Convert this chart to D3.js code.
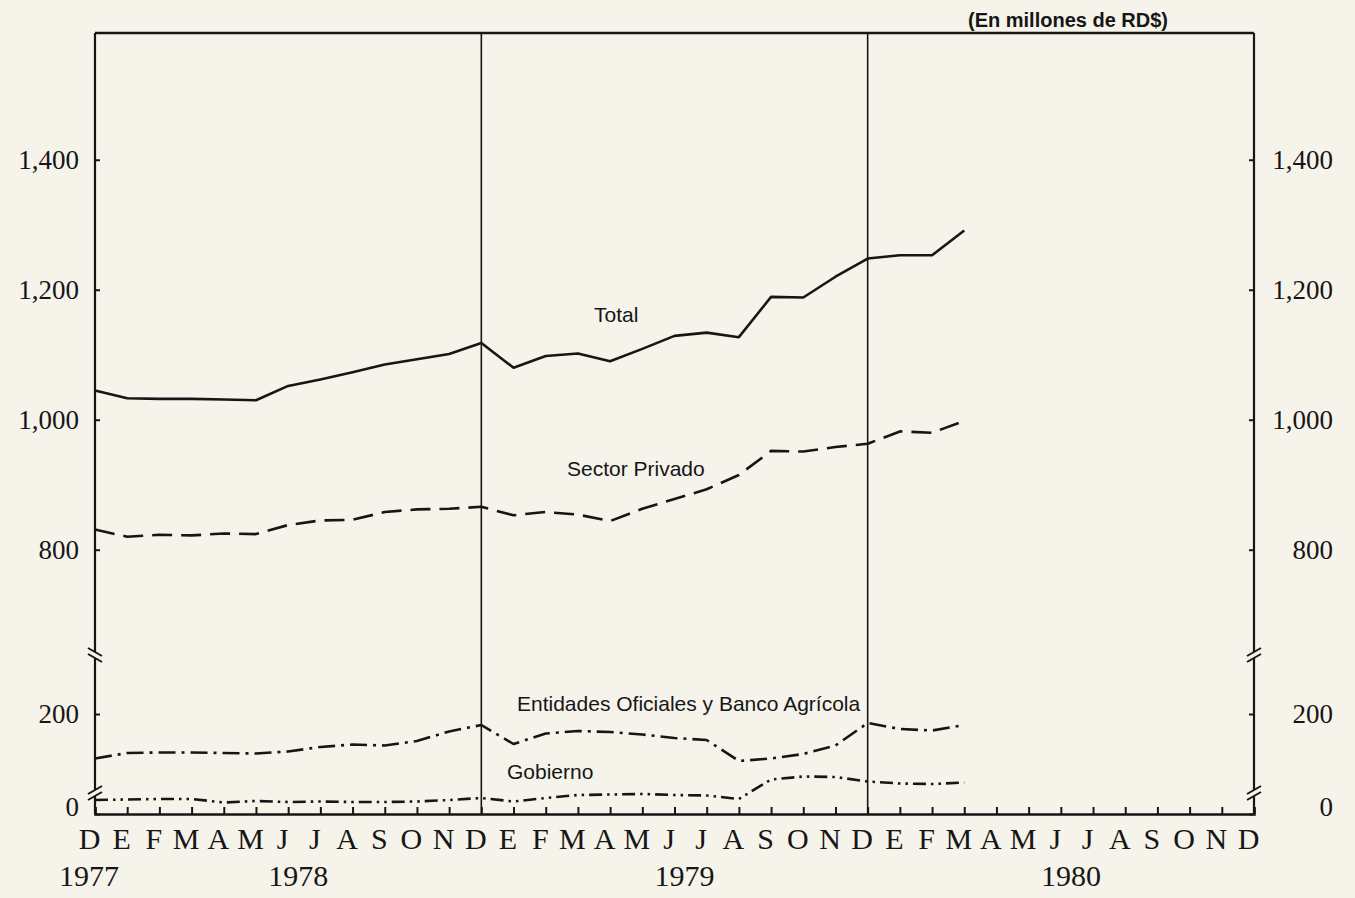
<!DOCTYPE html>
<html>
<head>
<meta charset="utf-8">
<script src="https://cdn.jsdelivr.net/npm/d3@7"></script>
<style>
  html, body { margin: 0; padding: 0; background: #f5f3ea; }
  svg { display: block; }
  .num { font-family: "Liberation Serif", "DejaVu Serif", serif; fill: #161616; }
  .lbl { font-family: "Liberation Sans", "DejaVu Sans", sans-serif; fill: #161616; }
</style>
</head>
<body>
<div id="chart"></div>
<script>
// months from Dec 1977 to Dec 1980
const months = ["D",
  "E","F","M","A","M","J","J","A","S","O","N","D",
  "E","F","M","A","M","J","J","A","S","O","N","D",
  "E","F","M","A","M","J","J","A","S","O","N","D"];
const years = ["1977", "1978", "1979", "1980"];

const upperTicks = [800, 1000, 1200, 1400];
const lowerTicks = [0, 200];

// values in millones de RD$, Dec 1977 .. Mar 1980
const total     = [1045,1033,1032,1032,1031,1030,1052,1062,1073,1085,1093,1101,1118,1080,1098,1102,1090,1109,1129,1134,1127,1189,1188,1220,1248,1253,1253,1291];
const privado   = [831,820,823,822,825,824,838,845,846,858,862,863,866,853,858,854,844,863,878,893,915,952,951,958,963,982,980,998];
const entidades = [111,122,123,123,122,121,125,134,139,137,146,165,178,140,161,166,164,159,152,148,106,111,120,137,182,170,167,178];
const gobierno  = [28,29,30,30,23,26,24,25,24,24,25,28,32,25,32,38,39,40,38,37,30,69,75,74,65,61,60,63];

const W = 1355, H = 898;
const mLeft = 95, mRight = 1254, mTop = 33, mBottom = 814, breakY = 655;
const ink = "#161616", bg = "#f5f3ea";

const svg = d3.select("#chart").append("svg")
  .attr("width", W).attr("height", H);

const x = d3.scaleLinear().domain([0, months.length - 1]).range([mLeft, mRight]);
const yUpper = d3.scaleLinear().domain([638, 1595]).range([breakY, mTop]);
const yLower = d3.scaleLinear().domain([0, 318]).range([mBottom, breakY]);

// frame
svg.append("line").attr("x1", mLeft).attr("x2", mRight).attr("y1", mTop).attr("y2", mTop)
  .attr("stroke", ink).attr("stroke-width", 2.6);
[mLeft, mRight].forEach(xx => {
  svg.append("line").attr("x1", xx).attr("x2", xx).attr("y1", mTop).attr("y2", mBottom)
    .attr("stroke", ink).attr("stroke-width", 2.2);
});
// December dividers
[12, 24].forEach(i => {
  svg.append("line").attr("x1", x(i)).attr("x2", x(i)).attr("y1", mTop).attr("y2", mBottom)
    .attr("stroke", ink).attr("stroke-width", 1.6);
});

// x axis
const xAxis = d3.axisBottom(x)
  .tickValues(d3.range(months.length))
  .tickSize(-7)
  .tickPadding(14)
  .tickFormat(i => months[i]);
const gx = svg.append("g").attr("transform", `translate(0,${mBottom})`).call(xAxis);
gx.select(".domain").attr("stroke", ink).attr("stroke-width", 2.6);
gx.selectAll(".tick line").attr("stroke", ink).attr("stroke-width", 2);
gx.selectAll(".tick text").attr("class", "num").attr("font-size", 30)
  .attr("dx", -6).attr("fill", ink);

// years
svg.selectAll(".year").data(years).enter().append("text")
  .attr("class", "num year")
  .attr("x", (d, k) => x(k === 0 ? 0 : (k - 1) * 12 + 6.5) - 6)
  .attr("y", mBottom + 72)
  .attr("text-anchor", "middle")
  .attr("font-size", 30)
  .text(d => d);

// y axes (ticks inward)
function styleY(g, side) {
  g.select(".domain").remove();
  g.selectAll(".tick line").attr("stroke", ink).attr("stroke-width", 2);
  g.selectAll(".tick text").attr("class", "num").attr("font-size", 27).attr("fill", ink)
    .attr("text-anchor", "end")
    .attr("x", side === "left" ? -16 : 79);
  g.selectAll(".tick").filter(d => d === 0).select("text")
    .attr("transform", "translate(0,-7)");
}
const fmt = d3.format(",");
svg.append("g").attr("transform", `translate(${mLeft},0)`)
  .call(d3.axisLeft(yUpper).tickValues(upperTicks).tickSize(-5).tickFormat(fmt))
  .call(g => styleY(g, "left"));
svg.append("g").attr("transform", `translate(${mLeft},0)`)
  .call(d3.axisLeft(yLower).tickValues(lowerTicks).tickSize(-5).tickFormat(fmt))
  .call(g => styleY(g, "left"));
svg.append("g").attr("transform", `translate(${mRight},0)`)
  .call(d3.axisRight(yUpper).tickValues(upperTicks).tickSize(-5).tickFormat(fmt))
  .call(g => styleY(g, "right"));
svg.append("g").attr("transform", `translate(${mRight},0)`)
  .call(d3.axisRight(yLower).tickValues(lowerTicks).tickSize(-5).tickFormat(fmt))
  .call(g => styleY(g, "right"));

// axis break marks
function axisBreak(xx, yy, dir) {
  svg.append("rect").attr("x", xx - 3).attr("y", yy - 3).attr("width", 6).attr("height", 6)
    .attr("fill", bg);
  [-3, 3].forEach(o => {
    svg.append("line")
      .attr("x1", xx - 7).attr("y1", yy + o - 4 * dir)
      .attr("x2", xx + 7).attr("y2", yy + o + 4 * dir)
      .attr("stroke", ink).attr("stroke-width", 2);
  });
}
axisBreak(mLeft, breakY, 1);
axisBreak(mLeft, mBottom - 21, -1);
axisBreak(mRight, breakY, -1);
axisBreak(mRight, mBottom - 21, -1);

// series
const lineUpper = d3.line().x((d, i) => x(i)).y(d => yUpper(d));
const lineLower = d3.line().x((d, i) => x(i)).y(d => yLower(d));

const series = [
  { data: total,     gen: lineUpper, dash: null },
  { data: privado,   gen: lineUpper, dash: "20 9" },
  { data: entidades, gen: lineLower, dash: "17 6 3 6" },
  { data: gobierno,  gen: lineLower, dash: "13 5 2.5 5 2.5 5" }
];
svg.selectAll(".series").data(series).enter().append("path")
  .attr("class", "series")
  .attr("d", d => d.gen(d.data))
  .attr("fill", "none")
  .attr("stroke", ink)
  .attr("stroke-width", 2.6)
  .attr("stroke-linejoin", "round")
  .attr("stroke-dasharray", d => d.dash);

// series labels
const labels = [
  { t: "Total", x: 594, y: 322 },
  { t: "Sector Privado", x: 567, y: 476 },
  { t: "Entidades Oficiales y Banco Agrícola", x: 517, y: 711 },
  { t: "Gobierno", x: 507, y: 779 }
];
svg.selectAll(".slbl").data(labels).enter().append("text")
  .attr("class", "lbl slbl")
  .attr("x", d => d.x).attr("y", d => d.y)
  .attr("font-size", 21)
  .text(d => d.t);

svg.append("text").attr("class", "lbl")
  .attr("x", 968).attr("y", 27)
  .attr("font-size", 20).attr("font-weight", "bold")
  .text("(En millones de RD$)");
</script>
</body>
</html>
